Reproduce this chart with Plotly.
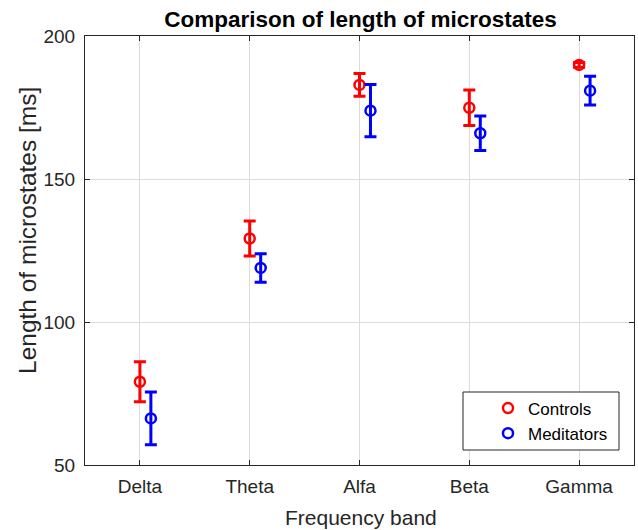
import plotly.graph_objects as go

bands = ["Delta", "Theta", "Alfa", "Beta", "Gamma"]
controls_mean = [79.1, 129.2, 182.9, 174.9, 189.9]
controls_err = [7.0, 6.1, 4.0, 6.2, 0.8]
meditators_mean = [66.3, 118.9, 173.9, 166.0, 180.9]
meditators_err = [9.2, 5.0, 9.1, 6.0, 5.0]
yticks = [50, 100, 150, 200]

pos = list(range(1, len(bands) + 1))
shift = 0.1
FONT = "Liberation Sans, Arial, sans-serif"

fig = go.Figure()
fig.add_trace(go.Scatter(
    x=pos, y=controls_mean, mode="markers", name="Controls",
    marker=dict(symbol="circle-open", size=10, color="#ff0000", line=dict(width=2.5, color="#ff0000")),
    error_y=dict(type="data", array=controls_err, visible=True, color="#ff0000", thickness=3, width=6),
))
fig.add_trace(go.Scatter(
    x=[p + shift for p in pos], y=meditators_mean, mode="markers", name="Meditators",
    marker=dict(symbol="circle-open", size=10, color="#0000ff", line=dict(width=2.5, color="#0000ff")),
    error_y=dict(type="data", array=meditators_err, visible=True, color="#0000ff", thickness=3, width=6),
))

axis_common = dict(
    showline=True, linecolor="#262626", linewidth=1, mirror="ticks",
    ticks="inside", ticklen=5, tickcolor="#262626",
    showgrid=True, gridcolor="#dcdcdc", gridwidth=1, zeroline=False,
    tickfont=dict(family=FONT, size=19, color="#262626"),
)

def px(xp):
    return (xp - 85) / 549

def py(yp):
    return (465 - yp) / 429

fig.update_layout(
    width=638, height=530,
    margin=dict(l=85, r=4, t=36, b=65),
    paper_bgcolor="white", plot_bgcolor="white",
    title=dict(text="<b>Comparison of length of microstates</b>", x=px(360.5), xanchor="center",
               xref="paper", y=1 - 19 / 530, yanchor="middle",
               font=dict(family=FONT, size=22.5, color="black")),
    xaxis=dict(range=[0.5, 5.5], tickvals=pos, ticktext=bands, ticklabelstandoff=4, **axis_common),
    yaxis=dict(range=[50, 200], tickvals=yticks, ticklabelstandoff=5, **axis_common),
    legend=dict(x=px(613), y=py(421), xanchor="right", yanchor="middle",
                borderwidth=0, bgcolor="rgba(0,0,0,0)",
                font=dict(family=FONT, size=17, color="black")),
    showlegend=True,
    shapes=[dict(type="rect", xref="paper", yref="paper",
                 x0=px(463), x1=px(619), y0=py(450), y1=py(392),
                 line=dict(color="#262626", width=1), fillcolor="white", layer="above")],
    annotations=[
        dict(text="Frequency band", xref="paper", yref="paper",
             x=px(361), y=py(517), xanchor="center", yanchor="middle",
             showarrow=False, font=dict(family=FONT, size=21, color="#262626")),
        dict(text="Length of microstates [ms]", xref="paper", yref="paper", textangle=-90,
             x=px(27), y=py(231), xanchor="center", yanchor="middle",
             showarrow=False, font=dict(family=FONT, size=24.5, color="#262626")),
    ],
)

fig.write_html("out.html")
